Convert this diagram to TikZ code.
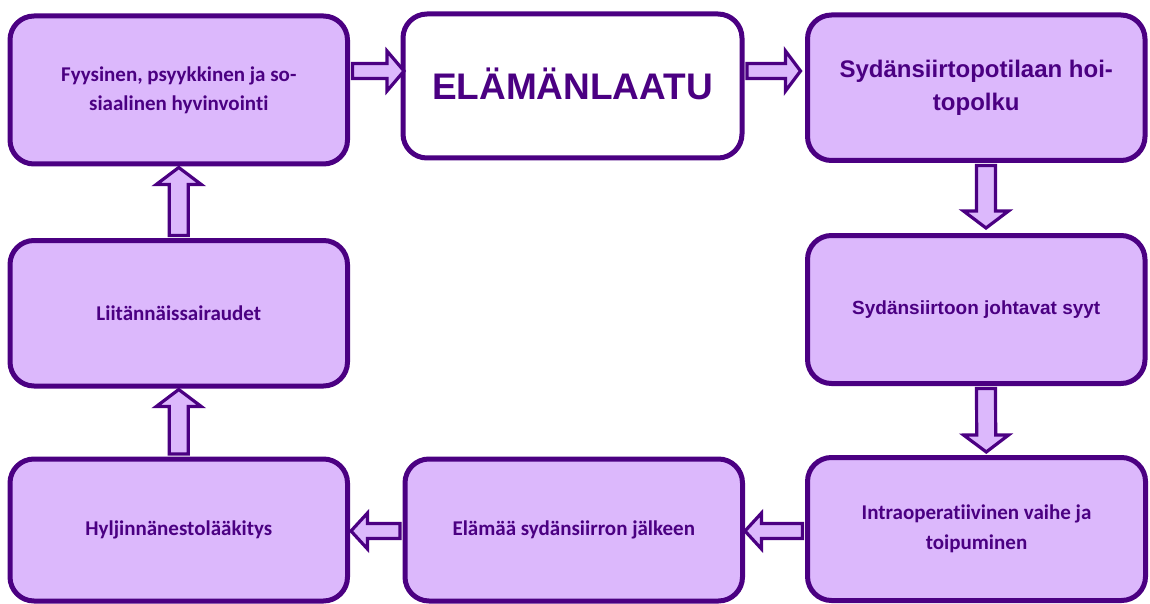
\documentclass[tikz,border=0pt]{standalone}
\usepackage{fontspec}
\setmainfont{Carlito}[Ligatures={NoCommon}]
\newfontfamily\arialfont{Liberation Sans}
\usetikzlibrary{calc}
\definecolor{boxfill}{HTML}{DCB8FC}
\definecolor{boxline}{HTML}{4B0082}
\newcommand\blockarr[5]{% #1 tail, #2 tip, #3 shaft half, #4 head half, #5 head length
  \coordinate (hb) at ($(#2)!#5!(#1)$);
  \draw[blockarrow] ($(#1)!#3!90:(#2)$) -- ($(hb)!#3!90:(#2)$) -- ($(hb)!#4!90:(#2)$) -- (#2)
    -- ($(hb)!#4!-90:(#2)$) -- ($(hb)!#3!-90:(#2)$) -- ($(#1)!#3!-90:(#2)$) -- cycle;}
\begin{document}
\begin{tikzpicture}[x=1pt,y=-1pt,
  box/.style={draw=boxline, line width=5pt, rounded corners=24pt, fill=boxfill,
    text=boxline, font=\bfseries\fontsize{21}{29}\selectfont, align=center, inner sep=0pt},
  blockarrow/.style={draw=boxline, line width=3.2pt, fill=boxfill, line join=miter}]
\useasboundingbox (0,0) rectangle (1150,604);

\node[box, minimum width=337.5pt, minimum height=148pt] (A) at (178.75,90)
  {Fyysinen, psyykkinen ja so-\\siaalinen hyvinvointi};
\node[box, fill=white, minimum width=339pt, minimum height=144pt,
  font=\arialfont\bfseries\fontsize{37}{42}\selectfont] (B) at (572.5,86)
  {\raisebox{4pt}{ELÄMÄNLAATU}};
\node[box, minimum width=337.5pt, minimum height=145.5pt,
  font=\arialfont\bfseries\fontsize{24}{33}\selectfont] (C) at (976.25,87.75)
  {Sydänsiirtopotilaan hoi-\\topolku};
\node[box, minimum width=337.5pt, minimum height=148pt,
  font=\arialfont\bfseries\fontsize{19}{24}\selectfont] (E) at (976.25,309.5)
  {Sydänsiirtoon johtavat syyt};
\node[box, minimum width=338pt, minimum height=143pt,
  font=\bfseries\fontsize{21}{30}\selectfont] (H) at (976.5,529)
  {Intraoperatiivinen vaihe ja\\toipuminen};
\node[box, minimum width=337.5pt, minimum height=142pt] (G) at (573.75,530)
  {Elämää sydänsiirron jälkeen};
\node[box, minimum width=337.5pt, minimum height=142pt] (F) at (178.75,530)
  {Hyljinnänestolääkitys};
\node[box, minimum width=337.5pt, minimum height=145.5pt] (D) at (178.75,313.25)
  {Liitännäissairaudet};

\coordinate (ab1) at ($(A.east)+(2.5,-19)$);
\coordinate (ab2) at ($(B.west)+(3.5,-15)$);
\blockarr{ab1}{ab2}{7.5pt}{20pt}{17pt}
\coordinate (bc1) at ($(B.east)+(2.5,-15)$);
\coordinate (bc2) at ($(C.west)+(-4.5,-16.75)$);
\blockarr{bc1}{bc2}{7.5pt}{20pt}{15pt}
\coordinate (ce1) at ($(C.south)+(9.75,2.5)$);
\coordinate (ce2) at ($(E.north)+(9.75,-5)$);
\blockarr{ce1}{ce2}{9.5pt}{22.5pt}{17pt}
\coordinate (eh1) at ($(E.south)+(9.75,2.5)$);
\coordinate (eh2) at ($(H.north)+(9.75,-3)$);
\blockarr{eh1}{eh2}{9.5pt}{22.5pt}{17pt}
\coordinate (hg1) at ($(H.west)+(-2.5,2)$);
\coordinate (hg2) at ($(G.east)+(0,1)$);
\blockarr{hg1}{hg2}{7.5pt}{18pt}{16.5pt}
\coordinate (gf1) at ($(G.west)+(-2.5,1)$);
\coordinate (gf2) at ($(F.east)+(1,1)$);
\blockarr{gf1}{gf2}{7.5pt}{18pt}{16.5pt}
\coordinate (fd1) at ($(F.north)+(0,-2.5)$);
\coordinate (fd2) at ($(D.south)+(0,1)$);
\blockarr{fd1}{fd2}{9.5pt}{22.5pt}{17pt}
\coordinate (da1) at ($(D.north)+(0,-2.5)$);
\coordinate (da2) at ($(A.south)+(0,1)$);
\blockarr{da1}{da2}{9.5pt}{22.5pt}{17pt}
\end{tikzpicture}
\end{document}
